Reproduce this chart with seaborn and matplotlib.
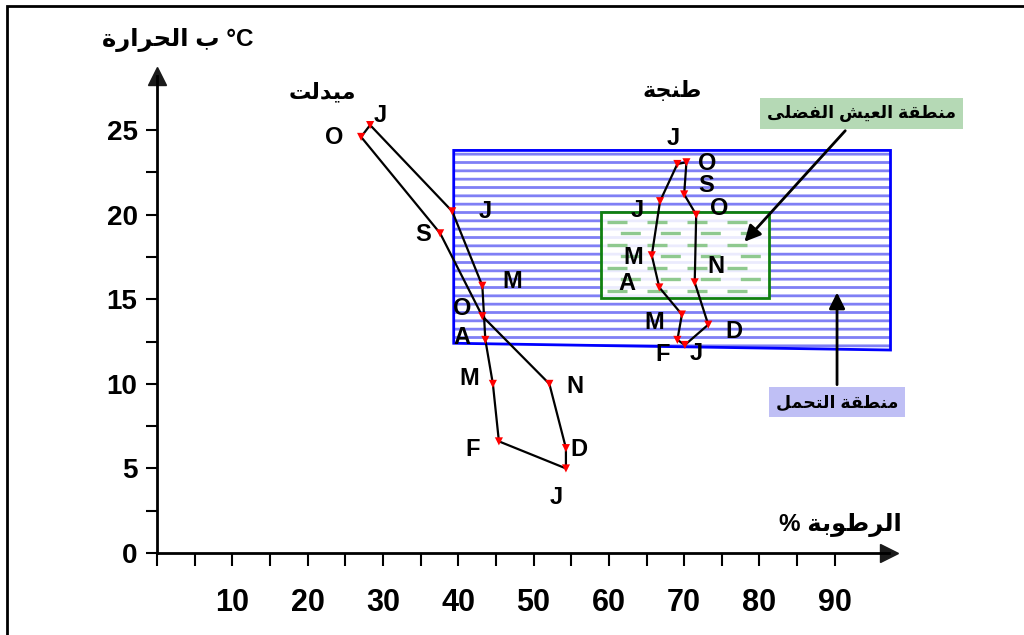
"""Climate loops (humidity vs temperature) for Midelt and Tangier with comfort zones."""
import numpy as np
import pandas as pd
import seaborn as sns
import matplotlib.pyplot as plt
from matplotlib.patches import Polygon, Rectangle

# ---- data ----
months = ["J", "F", "M", "A", "M", "J", "J", "O", "S", "O", "N", "D"]
midelt_humidity = [54.3, 45.4, 44.6, 43.6, 43.2, 39.2, 28.3, 27.1, 37.6, 43.2, 52.1, 54.3]
midelt_temp = [5.0, 6.6, 10.0, 12.6, 15.8, 20.2, 25.3, 24.6, 18.9, 14.0, 10.0, 6.2]
tanger_humidity = [70.1, 69.1, 69.7, 66.7, 65.7, 66.8, 69.1, 70.3, 70.0, 71.6, 71.4, 73.2]
tanger_temp = [12.3, 12.6, 14.1, 15.7, 17.6, 20.8, 23.0, 23.1, 21.2, 20.0, 16.0, 13.5]

# tolerance zone (blue) corners and optimum zone (green) bounds
tolerance_humidity = [39.4, 97.4, 97.4, 39.4]
tolerance_temp = [23.8, 23.8, 12.0, 12.4]
comfort_humidity = [59.0, 81.3]
comfort_temp = [15.1, 20.15]

x_ticks = [10, 20, 30, 40, 50, 60, 70, 80, 90]
y_ticks = [0, 5, 10, 15, 20, 25]

city_midelt = "ميدلت"
city_tanger = "طنجة"
label_comfort = "منطقة العيش الفضلى"
label_tolerance = "منطقة التحمل"
xlabel = "الرطوبة %"
ylabel = "الحرارة ب °C"

# label offsets in pixels (layout only)
midelt_offsets = [(-10, -29), (-26, -8), (-24, 5), (-23, 2), (30, 4), (33, 0),
                  (10, 10), (-27, -1), (-17, -1), (-20, 8), (26, -3), (13, -1)]
tanger_offsets = [(11, -9), (-15, -15), (-28, -8), (-32, 4), (-19, -2), (-23, -9),
                  (-4, 25), (21, -1), (22, 9), (23, 6), (21, 16), (26, -7)]

# ---- minimal Arabic shaping (matplotlib has no text shaping) ----
FORMS = {  # isolated, final, initial, medial
    'ا': (0xFE8D, 0xFE8E, None, None),
    'ب': (0xFE8F, 0xFE90, 0xFE91, 0xFE92),
    'ة': (0xFE93, 0xFE94, None, None),
    'ت': (0xFE95, 0xFE96, 0xFE97, 0xFE98),
    'ج': (0xFE9D, 0xFE9E, 0xFE9F, 0xFEA0),
    'ح': (0xFEA1, 0xFEA2, 0xFEA3, 0xFEA4),
    'د': (0xFEA9, 0xFEAA, None, None),
    'ر': (0xFEAD, 0xFEAE, None, None),
    'ش': (0xFEB5, 0xFEB6, 0xFEB7, 0xFEB8),
    'ض': (0xFEBD, 0xFEBE, 0xFEBF, 0xFEC0),
    'ط': (0xFEC1, 0xFEC2, 0xFEC3, 0xFEC4),
    'ع': (0xFEC9, 0xFECA, 0xFECB, 0xFECC),
    'ف': (0xFED1, 0xFED2, 0xFED3, 0xFED4),
    'ق': (0xFED5, 0xFED6, 0xFED7, 0xFED8),
    'ل': (0xFEDD, 0xFEDE, 0xFEDF, 0xFEE0),
    'م': (0xFEE1, 0xFEE2, 0xFEE3, 0xFEE4),
    'ن': (0xFEE5, 0xFEE6, 0xFEE7, 0xFEE8),
    'و': (0xFEED, 0xFEEE, None, None),
    'ى': (0xFEEF, 0xFEF0, None, None),
    'ي': (0xFEF1, 0xFEF2, 0xFEF3, 0xFEF4),
}


def shape_word(word):
    if not all(ch in FORMS for ch in word):
        return word
    out = []
    for i, ch in enumerate(word):
        join_prev = i > 0 and FORMS[word[i - 1]][2] is not None
        join_next = i < len(word) - 1 and FORMS[ch][2] is not None
        idx = 3 if (join_prev and join_next) else 1 if join_prev else 2 if join_next else 0
        out.append(chr(FORMS[ch][idx]))
    return ''.join(reversed(out))


def rtl(text, reverse_words=True):
    words = text.split(' ')
    if reverse_words:
        words = words[::-1]
    return ' '.join(shape_word(w) for w in words)


# ---- figure ----
sns.set_theme(style="white")
plt.rcParams['font.family'] = ['Liberation Sans', 'DejaVu Sans']
plt.rcParams['text.color'] = 'black'
plt.rcParams['xtick.color'] = 'black'
plt.rcParams['ytick.color'] = 'black'
plt.rcParams['axes.labelcolor'] = 'black'
plt.rcParams['hatch.linewidth'] = 2.0

fig = plt.figure(figsize=(10.24, 6.35), dpi=100)
ax = fig.add_axes([157 / 1024, 82 / 635, 732 / 1024, 477 / 635])
ax.set_xlim(0, 97.2)
ax.set_ylim(0, 28.2)

# tolerance zone: blue horizontal stripes
zone = np.column_stack([tolerance_humidity, tolerance_temp])
ax.add_patch(Polygon(zone, closed=True, facecolor='white', edgecolor='#7f7ff5',
                     hatch='--', lw=0, zorder=1, clip_on=False))
ax.add_patch(Polygon(zone, closed=True, fill=False, edgecolor='#0000ff', lw=2,
                     zorder=1.5, clip_on=False))

# optimum zone: pale fill with dashed green lines
cx0, cx1 = comfort_humidity
cy0, cy1 = comfort_temp
ax.add_patch(Rectangle((cx0, cy0), cx1 - cx0, cy1 - cy0, facecolor='white',
                       alpha=0.85, lw=0, zorder=2))
for k, yy in enumerate(np.arange(cy0 + 0.4, cy1 - 0.3, 0.68)):
    off = 0 if k % 2 == 0 else 8
    ax.plot([cx0 + 0.8, cx1 - 0.6], [yy, yy], color='#8fc98f', lw=2.4,
            linestyle=(off, (6, 6)), zorder=2.5)
ax.add_patch(Rectangle((cx0, cy0), cx1 - cx0, cy1 - cy0, fill=False,
                       edgecolor='#108010', lw=2, zorder=3))

# climate loops
for hum, temp, offsets in [(midelt_humidity, midelt_temp, midelt_offsets),
                           (tanger_humidity, tanger_temp, tanger_offsets)]:
    loop = pd.DataFrame({'h': hum + hum[:1], 't': temp + temp[:1]})
    sns.lineplot(data=loop, x='h', y='t', sort=False, estimator=None,
                 color='black', lw=1.6, ax=ax, zorder=4)
    sns.scatterplot(x=hum, y=temp, marker='v', color='red', s=34,
                    edgecolor='none', ax=ax, zorder=5, clip_on=False)
    for m, h, t, (dx, dy) in zip(months, hum, temp, offsets):
        ax.annotate(m, (h, t), xytext=(dx, dy), textcoords='offset pixels',
                    ha='center', va='center', fontsize=17, fontweight='bold')

# city names
ax.text(21.9, 27.2, rtl(city_midelt), ha='center', va='center',
        fontsize=16, fontweight='bold')
ax.text(68.4, 27.3, rtl(city_tanger), ha='center', va='center',
        fontsize=16, fontweight='bold')

# zone callouts
arrow = dict(arrowstyle='-|>', color='black', lw=2, mutation_scale=24, shrinkB=0)
ax.annotate(rtl(label_comfort), xy=(78.0, 18.4), xytext=(93.5, 26.0),
            ha='center', va='center', fontsize=12.5, fontweight='bold',
            bbox=dict(boxstyle='square,pad=0.4', fc='#b5d9b5', ec='none'),
            arrowprops=arrow, annotation_clip=False)
ax.annotate(rtl(label_tolerance), xy=(90.3, 15.4), xytext=(90.3, 8.9),
            ha='center', va='center', fontsize=12.5, fontweight='bold',
            bbox=dict(boxstyle='square,pad=0.4', fc='#bfbff5', ec='none'),
            arrowprops=arrow, annotation_clip=False)

# axes styling
for side in ['top', 'right']:
    ax.spines[side].set_visible(False)
for side in ['left', 'bottom']:
    ax.spines[side].set_linewidth(2)
    ax.spines[side].set_color('black')
ax.plot(1, 0, '>k', ms=13, transform=ax.get_yaxis_transform(), clip_on=False)
ax.plot(0, 1, '^k', ms=13, transform=ax.get_xaxis_transform(), clip_on=False)

all_x = np.arange(0, 91, 5)
ax.set_xticks(all_x)
ax.set_xticklabels([str(v) if v in x_ticks else '' for v in all_x],
                   fontsize=22, fontweight='bold')
ax.set_yticks(y_ticks)
ax.set_yticklabels([str(v) for v in y_ticks], fontsize=20, fontweight='bold')
ax.set_yticks(np.arange(2.5, 25, 5), minor=True)
ax.tick_params(axis='x', which='major', direction='out', length=9, width=1.5,
               pad=16, bottom=True)
ax.tick_params(axis='y', which='both', direction='out', length=8, width=1.5,
               pad=6, left=True)
ax.set_xlabel('')
ax.set_ylabel('')

ax.text(90.7, 1.65, rtl(xlabel), ha='center', va='center', fontsize=17.5, fontweight='bold')
ax.text(2.7, 30.3, rtl(ylabel, reverse_words=False), ha='center', va='center',
        fontsize=17.5, fontweight='bold', clip_on=False)

# outer frame
fig.add_artist(Rectangle((7 / 1024, -0.05), 1.1, 1 - 6 / 635 + 0.05,
                         transform=fig.transFigure, fill=False, lw=2, ec='black'))

fig.savefig('out.png', dpi=100)
